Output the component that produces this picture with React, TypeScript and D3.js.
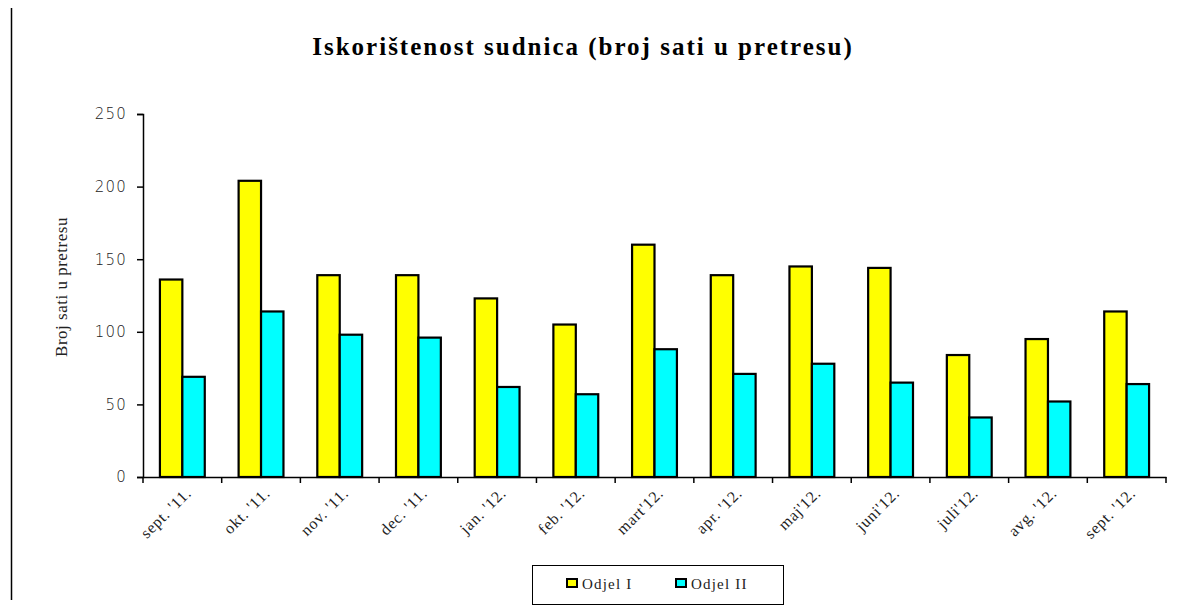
import React, { useEffect, useRef } from 'react';
import * as d3 from 'd3';

const months = [
  "sept. '11.", "okt. '11.", "nov. '11.", "dec. '11.", "jan. '12.", "feb. '12.",
  "mart'12.", "apr. '12.", "maj'12.", "juni'12.", "juli'12.", "avg. '12.", "sept. '12.",
];
const odjelI = [136, 204, 139, 139, 123, 105, 160, 139, 145, 144, 84, 95, 114];
const odjelII = [69, 114, 98, 96, 62, 57, 88, 71, 78, 65, 41, 52, 64];
const seriesNames = ['Odjel I', 'Odjel II'];
const seriesColors = ['#ffff00', '#00ffff'];
const yTicks = [0, 50, 100, 150, 200, 250];

export default function App() {
  const svgRef = useRef<SVGSVGElement>(null);

  useEffect(() => {
    if (!svgRef.current) return;
    const W = 1181, H = 608;
    const margin = { top: 114, right: 15, bottom: 131, left: 143 };
    const chartWidth = W - margin.left - margin.right;
    const chartHeight = H - margin.top - margin.bottom;
    const serif = '"Liberation Serif", "Times New Roman", serif';

    const svg = d3.select(svgRef.current);
    svg.selectAll('*').remove();

    svg.append('rect').attr('width', W).attr('height', H).attr('fill', '#fff');

    // left border line
    svg.append('line')
      .attr('x1', 11.5).attr('x2', 11.5).attr('y1', 8).attr('y2', 600)
      .attr('stroke', '#000').attr('stroke-width', 1.5);

    // Title
    svg.append('text')
      .attr('x', 583).attr('y', 55)
      .attr('text-anchor', 'middle')
      .attr('font-family', serif)
      .attr('font-weight', 'bold')
      .attr('font-size', 25)
      .attr('letter-spacing', 2)
      .text('Iskorištenost sudnica (broj sati u pretresu)');

    const x = d3.scaleBand<string>()
      .domain(months)
      .range([0, chartWidth])
      .paddingInner(0.43)
      .paddingOuter(0.215);

    const x1 = d3.scaleBand<number>()
      .domain([0, 1])
      .range([0, x.bandwidth()]);

    const y = d3.scaleLinear().domain([0, 250]).range([chartHeight, 0]);

    const g = svg.append('g').attr('transform', `translate(${margin.left},${margin.top})`);

    // Bars
    const groups = g.selectAll('.grp')
      .data(months)
      .enter().append('g')
      .attr('class', 'grp')
      .attr('transform', d => `translate(${x(d)},0)`);

    groups.selectAll('rect')
      .data((d, i) => [odjelI[i], odjelII[i]])
      .enter().append('rect')
      .attr('x', (d, j) => x1(j)!)
      .attr('y', d => y(d))
      .attr('width', x1.bandwidth())
      .attr('height', d => chartHeight - y(d))
      .attr('fill', (d, j) => seriesColors[j])
      .attr('stroke', '#000')
      .attr('stroke-width', 2.2);

    // Y axis
    const yAxis = g.append('g')
      .call(d3.axisLeft(y).tickValues(yTicks).tickSize(6).tickPadding(10));
    yAxis.select('.domain').attr('stroke', '#000').attr('stroke-width', 1.5);
    yAxis.selectAll('.tick line').attr('stroke', '#000').attr('stroke-width', 1.5);
    yAxis.selectAll('.tick text')
      .attr('font-family', '"DejaVu Sans", sans-serif')
      .attr('font-size', 15)
      .attr('font-weight', 200)
      .attr('letter-spacing', 1.2)
      .attr('fill', '#222');

    // X axis
    const xAxis = g.append('g')
      .attr('transform', `translate(0,${chartHeight})`)
      .call(d3.axisBottom(x).tickSize(0).tickFormat(() => ''));
    xAxis.select('.domain').attr('stroke', '#000').attr('stroke-width', 1.5);

    const step = x.step();
    g.append('g')
      .selectAll('line')
      .data(d3.range(months.length + 1))
      .enter().append('line')
      .attr('x1', i => i * step).attr('x2', i => i * step)
      .attr('y1', chartHeight).attr('y2', chartHeight + 6)
      .attr('stroke', '#000').attr('stroke-width', 1.5);

    g.append('g')
      .selectAll('text')
      .data(months)
      .enter().append('text')
      .attr('transform', d => `translate(${x(d)! + x.bandwidth() / 2 + 10},${chartHeight + 17}) rotate(-45)`)
      .attr('text-anchor', 'end')
      .attr('font-family', serif)
      .attr('font-size', 16)
      .attr('letter-spacing', 0.8)
      .attr('fill', '#222')
      .text(d => d);

    // Y label
    svg.append('text')
      .attr('transform', `translate(67,287) rotate(-90)`)
      .attr('text-anchor', 'middle')
      .attr('font-family', serif)
      .attr('font-size', 17)
      .attr('letter-spacing', 0.5)
      .attr('fill', '#222')
      .text('Broj sati u pretresu');

    // Legend
    const lg = svg.append('g');
    lg.append('rect')
      .attr('x', 532.5).attr('y', 565.5).attr('width', 251).attr('height', 39)
      .attr('fill', '#fff').attr('stroke', '#000').attr('stroke-width', 1);
    const legendX = [567, 676];
    seriesNames.forEach((name, i) => {
      lg.append('rect')
        .attr('x', legendX[i]).attr('y', 579).attr('width', 10).attr('height', 8)
        .attr('fill', seriesColors[i]).attr('stroke', '#000').attr('stroke-width', 2);
      lg.append('text')
        .attr('x', legendX[i] + 15).attr('y', 589)
        .attr('font-family', serif)
        .attr('font-size', 15)
        .attr('letter-spacing', 1.2)
        .attr('fill', '#222')
        .text(name);
    });
  }, []);

  return (
    <svg
      ref={svgRef}
      width={1181}
      height={608}
      style={{ position: 'absolute', left: 0, top: 0 }}
    />
  );
}
